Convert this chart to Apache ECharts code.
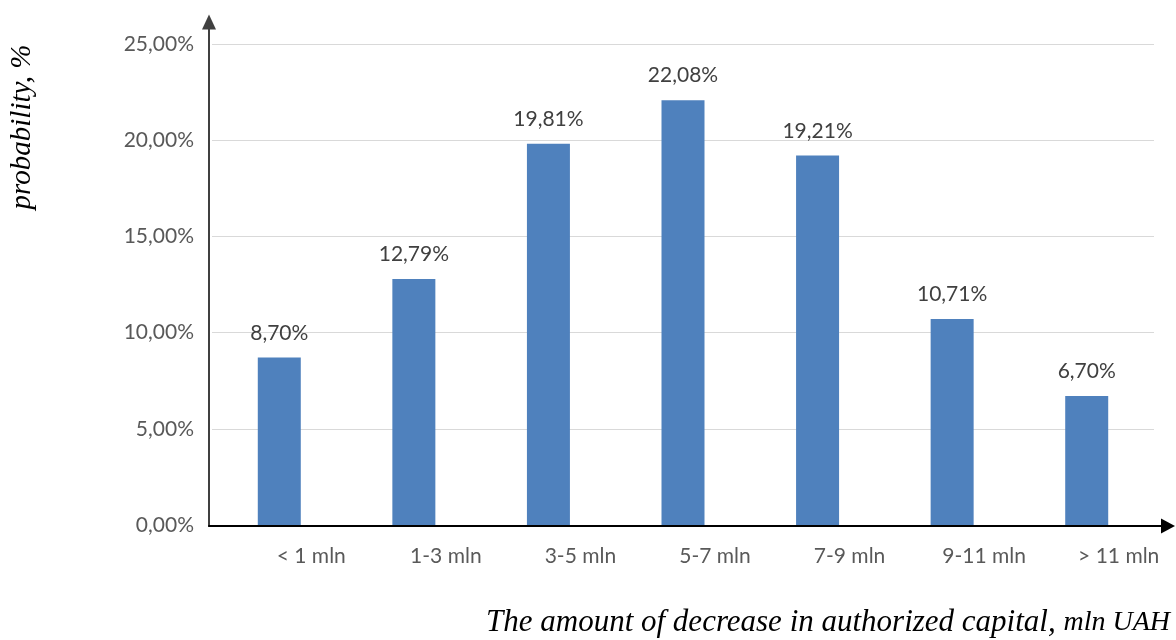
<!DOCTYPE html>
<html>
<head>
<meta charset="utf-8">
<script src="https://cdn.jsdelivr.net/npm/echarts@6/dist/echarts.min.js"></script>
<style>html,body{margin:0;padding:0;background:#fff}#c{width:1176px;height:640px}</style>
</head>
<body>
<div id="c"></div>
<script>
var categories = ['< 1 mln', '1-3 mln', '3-5 mln', '5-7 mln', '7-9 mln', '9-11 mln', '> 11 mln'];
var probabilities = [8.70, 12.79, 19.81, 22.08, 19.21, 10.71, 6.70];
var yTicks = [0, 5, 10, 15, 20, 25];
var yTitle = 'probability, %';
var xTitleMain = 'The amount of decrease in authorized capital,';
var xTitleUnit = 'mln UAH';

function pct(v) { return v.toFixed(2).replace('.', ',') + '%'; }

var chart = echarts.init(document.getElementById('c'));
chart.setOption({
  backgroundColor: '#fff',
  animation: false,
  grid: [
    { left: 212, right: 22, top: 44, bottom: 115 },
    { left: 209, right: 8, top: 22, bottom: 114 }
  ],
  xAxis: [
    {
      type: 'category', gridIndex: 0, data: categories, boundaryGap: true,
      axisLine: { show: false }, axisTick: { show: false },
      axisLabel: { margin: 21, fontFamily: 'Lato', fontSize: 21, color: '#595959', padding: [0, 0, 0, 64] }
    },
    {
      type: 'value', gridIndex: 1, min: 0, max: 1,
      axisLine: { show: true, symbol: ['none', 'triangle'], symbolSize: [15, 14], lineStyle: { color: '#000', width: 2 } },
      axisTick: { show: false }, axisLabel: { show: false }, splitLine: { show: false }
    }
  ],
  yAxis: [
    {
      type: 'value', gridIndex: 0, min: yTicks[0], max: yTicks[yTicks.length - 1], interval: 5,
      axisLine: { show: false }, axisTick: { show: false },
      axisLabel: { margin: 18, fontFamily: 'Lato', fontSize: 21, color: '#595959', formatter: function (v) { return pct(v); } },
      splitLine: { show: true, lineStyle: { color: '#d9d9d9', width: 1 } }
    },
    {
      type: 'value', gridIndex: 1, min: 0, max: 1,
      axisLine: { show: true, symbol: ['none', 'triangle'], symbolSize: [14, 15], lineStyle: { color: '#404040', width: 2 } },
      axisTick: { show: false }, axisLabel: { show: false }, splitLine: { show: false }
    }
  ],
  series: [{
    type: 'bar', xAxisIndex: 0, yAxisIndex: 0, data: probabilities, barWidth: 43,
    itemStyle: { color: '#4f81bd' },
    label: { show: true, position: 'top', distance: 14, fontFamily: 'Lato', fontSize: 21, color: '#404040', formatter: function (p) { return pct(p.value); } }
  }],
  graphic: [
    {
      type: 'text', x: 22, y: 127, rotation: Math.PI / 2,
      style: { text: yTitle, font: 'italic 29px "Liberation Serif"', fill: '#000', align: 'center', verticalAlign: 'middle' }
    },
    {
      type: 'text', x: 1170, y: 623,
      style: {
        text: '{a|' + xTitleMain + ' }{b|' + xTitleUnit + '}', align: 'right', verticalAlign: 'middle',
        rich: {
          a: { fontFamily: 'Liberation Serif', fontStyle: 'italic', fontSize: 31, fill: '#000' },
          b: { fontFamily: 'Liberation Serif', fontStyle: 'italic', fontSize: 28, fill: '#000' }
        }
      }
    }
  ]
});
</script>
</body>
</html>
